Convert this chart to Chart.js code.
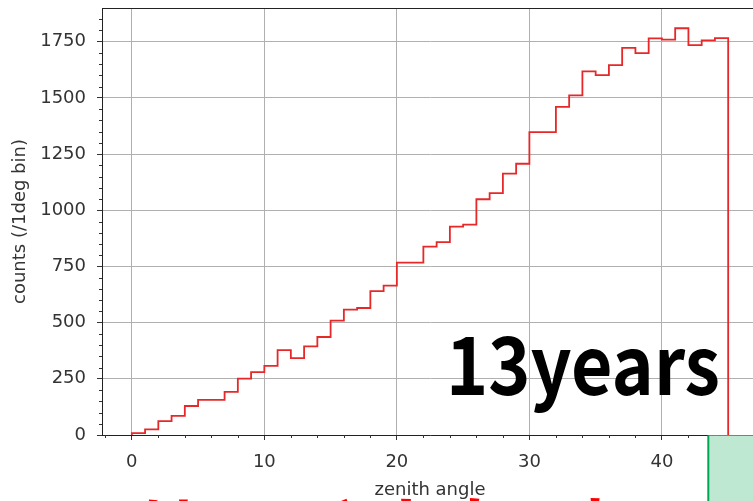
<!DOCTYPE html>
<html>
<head>
<meta charset="utf-8">
<script src="https://cdn.jsdelivr.net/npm/chart.js@4"></script>
<style>
    html, body { margin: 0; padding: 0; background: #fff; overflow: hidden; }
</style>
</head>
<body>
<canvas id="grafico-zenith" width="770" height="501"></canvas>
<script>
// histogram data, 1 deg bins
const binEdges = [0, 1, 2, 3, 4, 5, 6, 7, 8, 9, 10, 11, 12, 13, 14, 15, 16, 17, 18, 19, 20, 21, 22,
    23, 24, 25, 26, 27, 28, 29, 30, 31, 32, 33, 34, 35, 36, 37, 38, 39, 40, 41, 42, 43, 44, 45];
const counts = [8, 25, 62, 85, 129, 156, 156, 192, 251, 280, 308, 378, 342, 394, 436, 509, 558, 565,
    640, 665, 767, 767, 838, 858, 927, 936, 1049, 1076, 1163, 1207, 1348, 1348, 1460, 1511, 1618,
    1601, 1646, 1723, 1699, 1765, 1759, 1810, 1735, 1756, 1766];
const xTicks = [0, 10, 20, 30, 40];
const yTicks = [0, 250, 500, 750, 1000, 1250, 1500, 1750];
const labelText = '13years';
const bottomText = 'はーっとしたいね';

// step outline: up from 0 at the first edge, down to 0 at the last edge
const points = [{ x: binEdges[0], y: 0 }];
counts.forEach(function (c, i) { points.push({ x: binEdges[i], y: c }); });
points.push({ x: binEdges[binEdges.length - 1], y: 0 });

const tickFont = { family: 'DejaVu Sans', size: 18 };

const extras = {
    id: 'extras',
    afterDraw: function (chart) {
        const ctx = chart.ctx;
        const a = chart.chartArea;
        const xs = chart.scales.x;
        const ys = chart.scales.y;
        ctx.save();
        // minor ticks
        ctx.strokeStyle = '#333';
        ctx.lineWidth = 1;
        ctx.beginPath();
        for (let v = 50; v < ys.max; v += 50) {
            if (v % 250 === 0) continue;
            const py = Math.round(ys.getPixelForValue(v)) + 0.5;
            ctx.moveTo(a.left - 3, py);
            ctx.lineTo(a.left, py);
        }
        for (let v = -2; v < xs.max; v += 2) {
            if (v % 10 === 0) continue;
            const px = Math.round(xs.getPixelForValue(v)) + 0.5;
            ctx.moveTo(px, a.bottom);
            ctx.lineTo(px, a.bottom + 3);
        }
        ctx.stroke();
        // top and right spines
        ctx.strokeStyle = '#222';
        ctx.beginPath();
        ctx.moveTo(a.left, a.top + 0.5);
        ctx.lineTo(a.right, a.top + 0.5);
        ctx.lineTo(a.right, a.bottom);
        ctx.stroke();

        // green box at the bottom right
        const gx = xs.getPixelForValue(43.5);
        ctx.fillStyle = '#bfe8d3';
        ctx.fillRect(gx, a.bottom + 0.5, chart.width - gx, chart.height - a.bottom);
        ctx.strokeStyle = '#00a651';
        ctx.lineWidth = 2;
        ctx.beginPath();
        ctx.moveTo(gx, a.bottom + 0.5);
        ctx.lineTo(gx, chart.height);
        ctx.stroke();

        // big label
        ctx.fillStyle = '#000';
        ctx.font = 'bold 80px "Noto Sans CJK JP"';
        ctx.textAlign = 'left';
        ctx.textBaseline = 'alphabetic';
        ctx.fillText(labelText, 446, 395, 274);

        // red caption, mostly below the picture
        ctx.fillStyle = '#ff0000';
        ctx.font = 'bold 62px "Noto Sans CJK JP"';
        ctx.textBaseline = 'top';
        ctx.fillText(bottomText, 140, 494);
        ctx.restore();
    }
};

function noComma(v) { return String(v); }

new Chart(document.getElementById('grafico-zenith').getContext('2d'), {
    type: 'line',
    data: {
        datasets: [{
            data: points,
            stepped: true,
            fill: false,
            borderColor: 'rgb(230, 40, 40)',
            borderWidth: 1.8,
            pointRadius: 0
        }]
    },
    options: {
        responsive: false,
        animation: false,
        devicePixelRatio: 1,
        layout: { padding: { top: 8, right: 12, left: 0, bottom: 0 } },
        plugins: { legend: { display: false }, tooltip: { enabled: false } },
        scales: {
            x: {
                type: 'linear',
                min: -2.25,
                max: 47.25,
                afterBuildTicks: function (s) { s.ticks = xTicks.map(function (v) { return { value: v }; }); },
                afterFit: function (s) { s.height = 66; s.paddingLeft = 0; s.paddingRight = 0; },
                ticks: { font: tickFont, color: '#333', padding: 12, maxRotation: 0, autoSkip: false, callback: noComma },
                grid: { color: '#b0b0b0', lineWidth: 1, tickLength: 5, tickColor: '#333' },
                border: { display: true, color: '#222', width: 1 },
                title: { display: true, text: 'zenith angle', font: tickFont, color: '#333', padding: { top: 10, bottom: 0 } }
            },
            y: {
                min: 0,
                max: 1900,
                afterBuildTicks: function (s) { s.ticks = yTicks.map(function (v) { return { value: v }; }); },
                afterFit: function (s) { s.width = 102; s.paddingTop = 0; s.paddingBottom = 0; },
                ticks: { font: tickFont, color: '#333', padding: 11, autoSkip: false, callback: noComma },
                grid: { color: '#b0b0b0', lineWidth: 1, tickLength: 5, tickColor: '#333' },
                border: { display: true, color: '#222', width: 1 },
                title: { display: true, text: 'counts (/1deg bin)', font: tickFont, color: '#333', padding: { top: 10, bottom: 0 } }
            }
        }
    },
    plugins: [extras]
});
</script>
</body>
</html>
